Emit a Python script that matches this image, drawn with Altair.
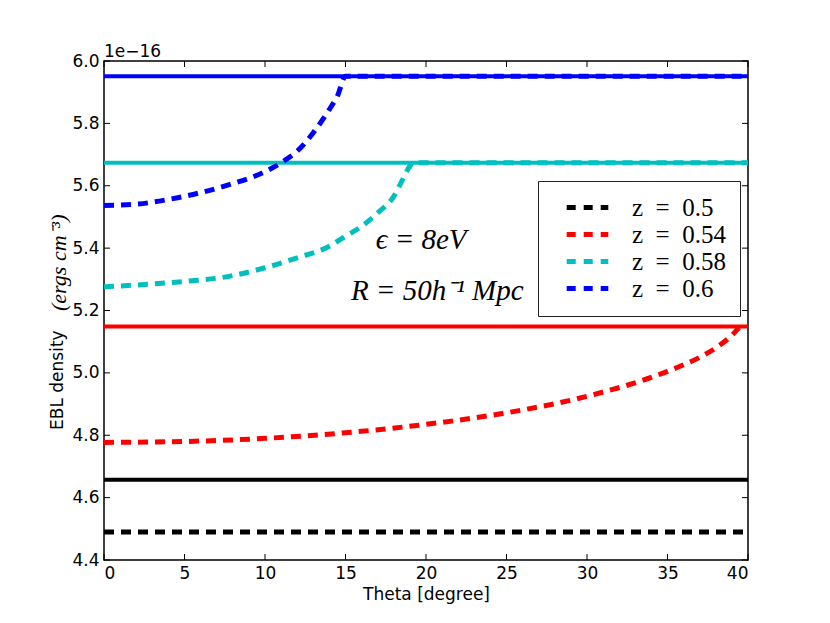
import altair as alt
import pandas as pd

# ---- data ----
series_labels = ["z\u2002=\u20020.5", "z\u2002=\u20020.54", "z\u2002=\u20020.58", "z\u2002=\u20020.6"]
series_colors = ["#000000", "#ff0000", "#00bfbf", "#0000ff"]

# flat (solid) reference levels, 1e-16 ergs cm^-3
solid_levels = [4.657, 5.149, 5.674, 5.951]

# dashed curves
theta_black = [0, 40]
dens_black = [4.490, 4.490]

theta_red = [0, 5, 10, 15, 20, 25, 30, 35, 37, 38, 39, 39.5, 40]
dens_red = [4.777, 4.780, 4.790, 4.808, 4.835, 4.872, 4.925, 5.005, 5.050, 5.080, 5.120, 5.145, 5.149]

theta_cyan = [0, 4, 8, 10, 12, 14, 15, 16, 17, 18, 18.5, 19, 19.2, 40]
dens_cyan = [5.276, 5.289, 5.312, 5.337, 5.369, 5.406, 5.438, 5.470, 5.513, 5.566, 5.615, 5.663, 5.674, 5.674]

theta_blue = [0, 2, 4, 6, 8, 10, 11, 12, 13, 14, 14.5, 15, 40]
dens_blue = [5.537, 5.541, 5.556, 5.578, 5.607, 5.645, 5.674, 5.711, 5.770, 5.845, 5.888, 5.951, 5.951]

x_ticks = [0, 5, 10, 15, 20, 25, 30, 35, 40]
y_ticks = [4.4, 4.6, 4.8, 5.0, 5.2, 5.4, 5.6, 5.8, 6.0]

annotations = ["\u03f5 = 8eV", "R = 50h\u207b\u00b9 Mpc"]
ann_x = [19.7, 20.7]
ann_y = [5.426, 5.262]

y_title_main = "EBL density"
y_title_unit = "(ergs cm\u207b\u00b3)"

# ---- tables ----
rows = []
for lab, lvl in zip(series_labels, solid_levels):
    rows.append({"theta": 0, "dens": lvl, "series": lab})
    rows.append({"theta": 40, "dens": lvl, "series": lab})
solid_df = pd.DataFrame(rows)

dashed_rows = []
for lab, th, de in zip(series_labels,
                       [theta_black, theta_red, theta_cyan, theta_blue],
                       [dens_black, dens_red, dens_cyan, dens_blue]):
    for i, (t, d) in enumerate(zip(th, de)):
        dashed_rows.append({"theta": t, "dens": d, "series": lab, "order": i})
dashed_df = pd.DataFrame(dashed_rows)

ann_df = pd.DataFrame({"label": annotations, "x": ann_x, "y": ann_y})
xt_df = pd.DataFrame({"t": x_ticks})
yt_df = pd.DataFrame({"t": y_ticks})

W, H = 644, 499
FS = 17

xscale = alt.Scale(domain=[0, 40], nice=False, zero=False)
yscale = alt.Scale(domain=[4.4, 6.0], nice=False, zero=False)
cscale = alt.Scale(domain=series_labels, range=series_colors)

legend = alt.Legend(title=None, orient="none", legendX=434, legendY=120,
                    symbolType="M-2.6,0H2.6", symbolStrokeWidth=5,
                    symbolDash=[9, 8], symbolSize=256,
                    symbolOffset=23,
                    labelFont="Liberation Serif", labelFontSize=25,
                    labelColor="black", labelOffset=32, labelLimit=300,
                    rowPadding=1, padding=14,
                    strokeColor="#222222", fillColor="white")

x_axis = alt.Axis(values=x_ticks, format="d", ticks=False, grid=False, domain=False,
                  labelFont="DejaVu Sans", labelFontSize=FS, labelColor="black",
                  labelPadding=5, title="Theta [degree]", titleFont="DejaVu Sans",
                  titleFontSize=FS, titleFontWeight="normal", titleColor="black",
                  titlePadding=5)
y_axis = alt.Axis(values=y_ticks, format=".1f", ticks=False, grid=False, domain=False,
                  labelFont="DejaVu Sans", labelFontSize=FS, labelColor="black",
                  labelPadding=5, title=None)

solid = alt.Chart(solid_df).mark_line(strokeWidth=4, clip=True).encode(
    x=alt.X("theta:Q", scale=xscale, axis=x_axis),
    y=alt.Y("dens:Q", scale=yscale, axis=y_axis),
    color=alt.Color("series:N", scale=cscale, sort=series_labels, legend=legend),
    detail="series:N",
)

dashed = alt.Chart(dashed_df).mark_line(strokeWidth=5, strokeDash=[10, 7],
                                        interpolate="monotone", clip=True).encode(
    x=alt.X("theta:Q", scale=xscale),
    y=alt.Y("dens:Q", scale=yscale),
    color=alt.Color("series:N", scale=cscale, sort=series_labels, legend=legend),
    order="order:Q",
)

ann = alt.Chart(ann_df).mark_text(font="Liberation Serif", fontStyle="italic",
                                  fontSize=29, color="black", align="center",
                                  baseline="middle").encode(
    x=alt.X("x:Q", scale=xscale), y=alt.Y("y:Q", scale=yscale), text="label:N")

exp_label = alt.Chart(pd.DataFrame({"t": ["1e\u221216"]})).mark_text(
    font="DejaVu Sans", fontSize=FS, color="black", align="left",
    baseline="alphabetic").encode(x=alt.value(0), y=alt.value(-4), text="t:N")

ytitle_main = alt.Chart(pd.DataFrame({"t": [y_title_main]})).mark_text(
    font="DejaVu Sans", fontSize=FS, color="black", align="left", baseline="middle",
    angle=270).encode(x=alt.value(-46), y=alt.value(369), text="t:N")

ytitle_unit = alt.Chart(pd.DataFrame({"t": [y_title_unit]})).mark_text(
    font="Liberation Serif", fontStyle="italic", fontSize=22, color="black",
    align="left", baseline="middle",
    angle=270).encode(x=alt.value(-45), y=alt.value(250), text="t:N")

tick_len = 6
xt_bottom = alt.Chart(xt_df).mark_rule(color="black", strokeWidth=1).encode(
    x=alt.X("t:Q", scale=xscale), y=alt.value(H), y2=alt.value(H - tick_len))
xt_top = alt.Chart(xt_df).mark_rule(color="black", strokeWidth=1).encode(
    x=alt.X("t:Q", scale=xscale), y=alt.value(0), y2=alt.value(tick_len))
yt_left = alt.Chart(yt_df).mark_rule(color="black", strokeWidth=1).encode(
    y=alt.Y("t:Q", scale=yscale), x=alt.value(0), x2=alt.value(tick_len))
yt_right = alt.Chart(yt_df).mark_rule(color="black", strokeWidth=1).encode(
    y=alt.Y("t:Q", scale=yscale), x=alt.value(W), x2=alt.value(W - tick_len))

chart = alt.layer(solid, dashed, ann, exp_label, ytitle_main, ytitle_unit,
                  xt_bottom, xt_top, yt_left, yt_right).properties(
    width=W, height=H,
    autosize=alt.AutoSizeParams(type="none"),
    padding={"left": 96, "top": 53, "right": 70, "bottom": 50},
    background="white",
).configure_view(stroke="black", strokeWidth=1.5)

chart.save("out.html", embed_options={"renderer": "svg", "actions": False})
